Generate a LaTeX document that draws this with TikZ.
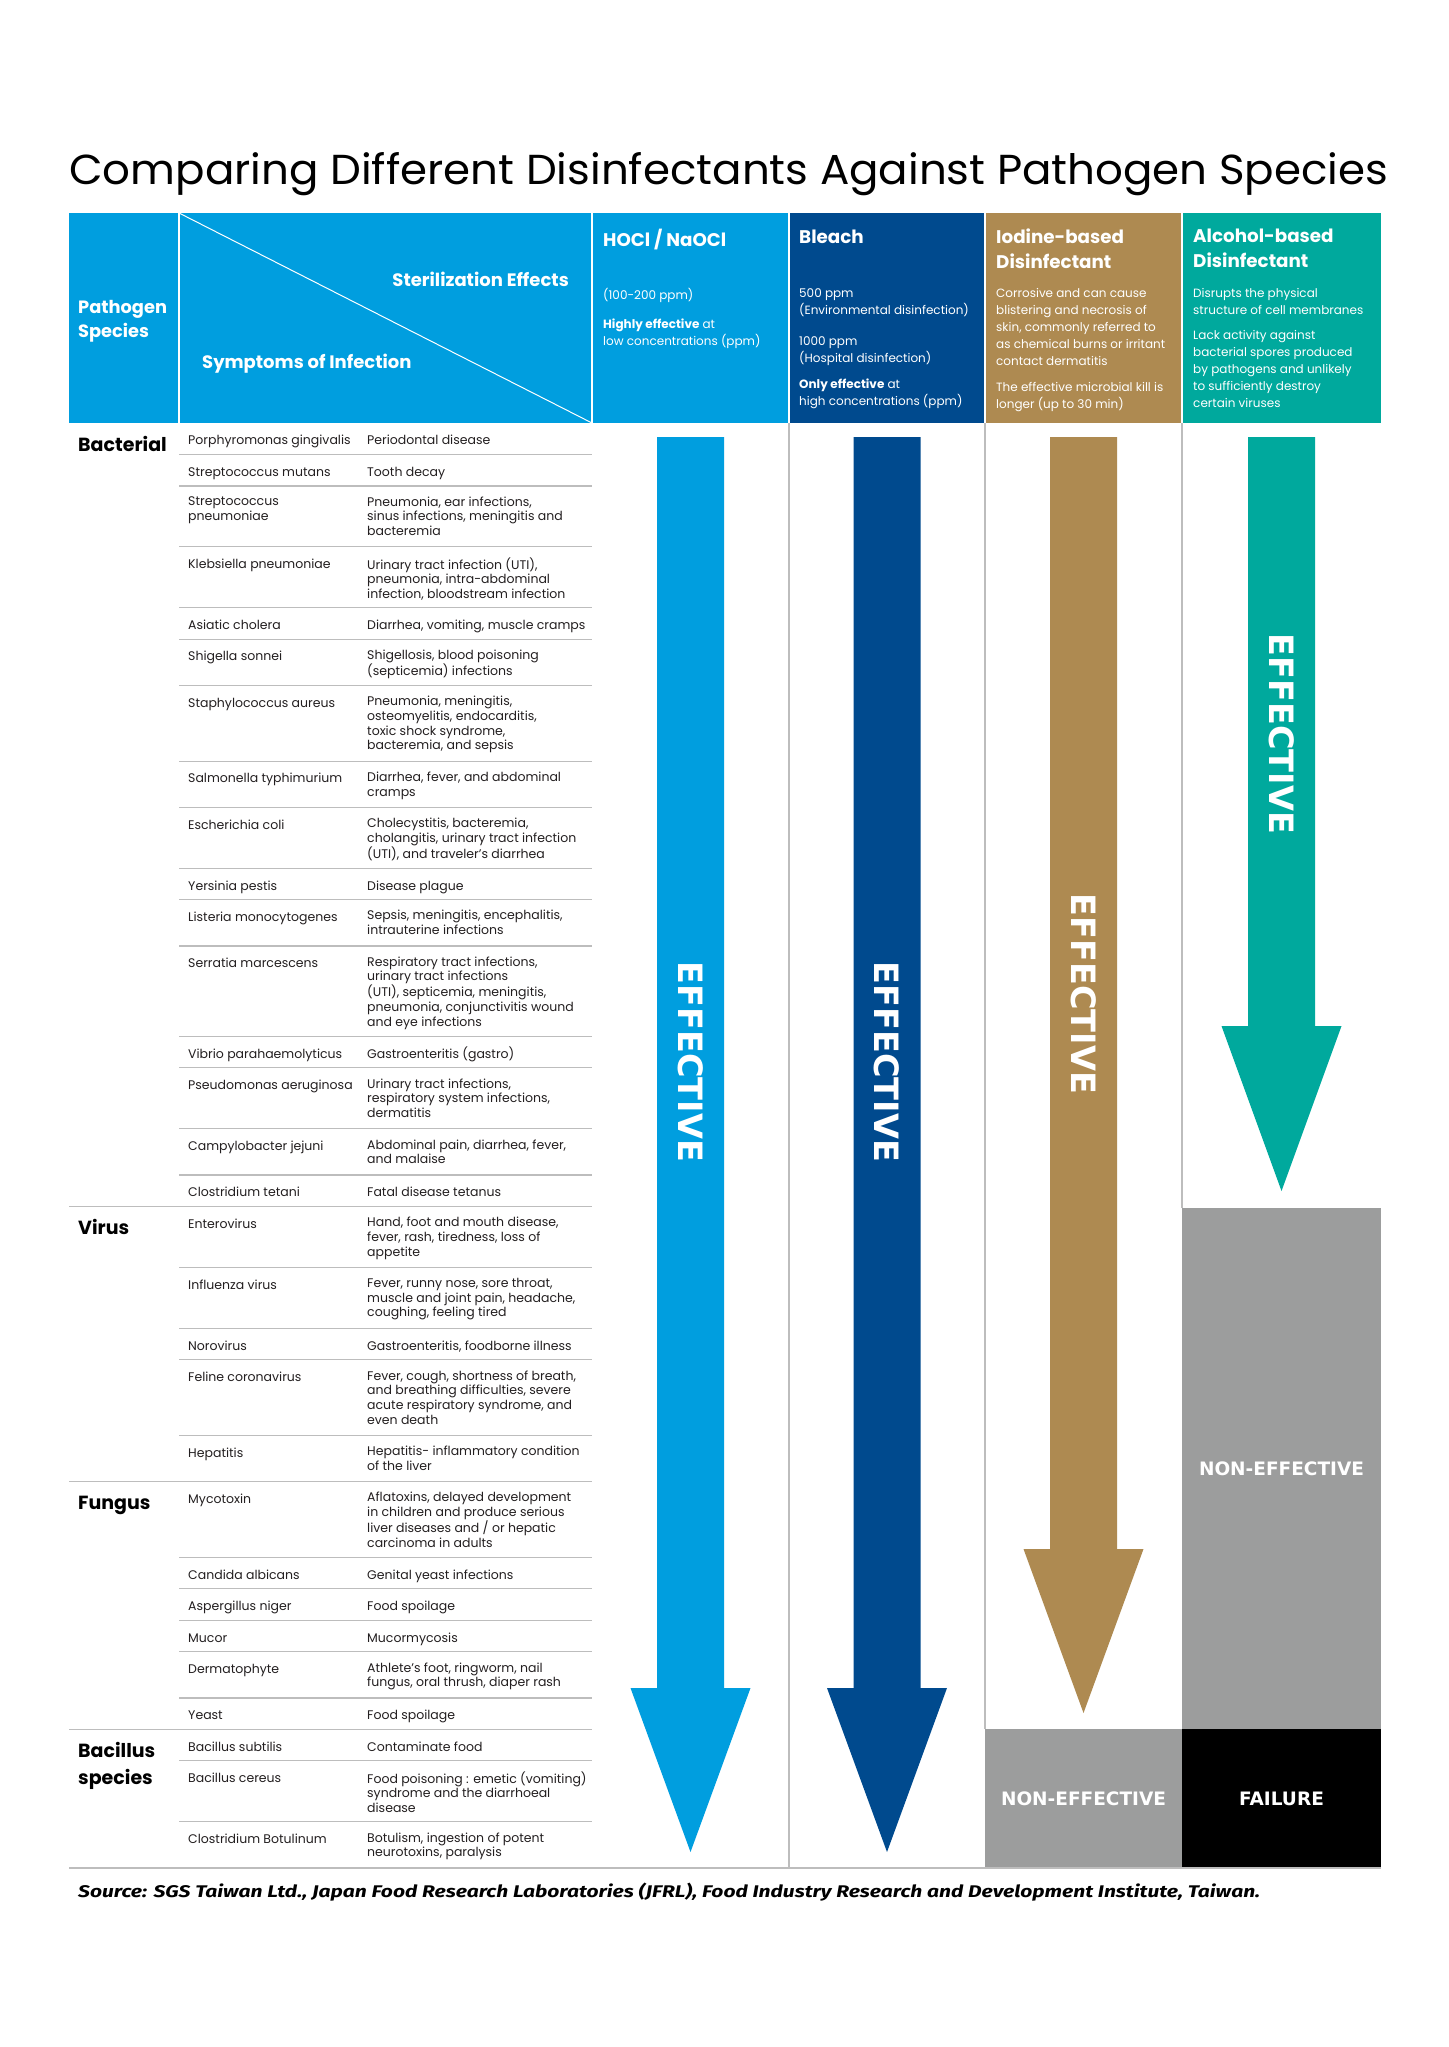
\documentclass[tikz,border=0pt]{standalone}
\usepackage{fontspec}
\usepackage{graphicx}
\setmainfont{Poppins}
\newfontfamily\effont{DejaVu Sans}
\newfontfamily\srcfont{Fira Sans}
\definecolor{hocl}{HTML}{009EDF}
\definecolor{bleach}{HTML}{004A8E}
\definecolor{iodine}{HTML}{AE8A51}
\definecolor{alcohol}{HTML}{00A99D}
\definecolor{ngray}{HTML}{9C9D9D}
\definecolor{rulegray}{HTML}{BDBDBD}
\definecolor{tabtext}{HTML}{231F20}
\newcommand\rowtop{423}
\newcommand\mkrow[5]{%
  \node[cellsp] (#1s) at (188,\rowtop+10.5) {#3};
  \node[cellsp] (#1y) at (367,\rowtop+10.5) {#4};
  \pgfmathsetmacro\rownext{\rowtop+16.7+14.75*#2}%
  \xdef\rowtop{\rownext}%
  \coordinate (#1a) at (#5,\rowtop);
  \coordinate (#1b) at (592,\rowtop);
  \draw[rowline] (#1a) -- (#1b);
}
\newcommand\darrow[5]{%
  \fill[#2] (#3-33.5,437) -- (#3+33.5,437) -- (#3+33.5,#4) -- (#3+60,#4)
    -- (#3,#5) -- (#3-60,#4) -- (#3-33.5,#4) -- cycle;
}
\tikzset{
  cellsp/.style={anchor=north west, inner sep=0, align=left, text=tabtext,
    font=\fontsize{12.5pt}{14.75pt}\selectfont, execute at begin node=\rule{0pt}{11pt}},
  rowline/.style={draw=rulegray, line width=1.2pt},
  colline/.style={draw=rulegray, line width=1.2pt},
  htitle/.style={anchor=north west, inner sep=0, align=left, text=white,
    font=\bfseries\fontsize{18.3pt}{25pt}\selectfont, execute at begin node=\rule{0pt}{14pt}},
  hbody/.style={anchor=north west, inner sep=0, align=left, text=white,
    font=\fontsize{12pt}{17pt}\selectfont, execute at begin node=\rule{0pt}{10pt}},
  grp/.style={anchor=north west, inner sep=0, align=left, text=black,
    font=\bfseries\fontsize{19pt}{27.4pt}\selectfont, execute at begin node=\rule{0pt}{15pt}},
  eff/.style={inner sep=0, text=white, font=\effont\bfseries\fontsize{33.5pt}{33.5pt}\selectfont, rotate=-90},
  verdict/.style={inner sep=0, text=white, font=\effont\bfseries\fontsize{18.5pt}{18.5pt}\selectfont},
  sepline/.style={draw=white, line width=1.3pt},
}
\begin{document}
\begin{tikzpicture}[x=1pt,y=-1pt]
\useasboundingbox (0,0) rectangle (1448,2047);
\fill[white] (0,0) rectangle (1448,2047);

% title
\node[anchor=base west, inner sep=0] (title) at (69,184)
  {\resizebox{1319pt}{32pt}{\fontsize{44pt}{44pt}\selectfont Comparing Different Disinfectants Against Pathogen Species}};

% header
\fill[hocl] (69,213) rectangle (592,423);
\fill[hocl] (592,213) rectangle (789,423);
\fill[bleach] (789,213) rectangle (985,423);
\fill[iodine] (985,213) rectangle (1182,423);
\fill[alcohol] (1182,213) rectangle (1381,423);
\coordinate (hA) at (179,213); \coordinate (hB) at (179,423);
\coordinate (hC) at (592,213); \coordinate (hD) at (592,423);
\coordinate (hE) at (789,213); \coordinate (hF) at (789,423);
\coordinate (hG) at (985,213); \coordinate (hH) at (985,423);
\coordinate (hI) at (1182,213); \coordinate (hJ) at (1182,423);
\draw[sepline] (hA) -- (hB);
\draw[sepline] (hC) -- (hD);
\draw[sepline] (hE) -- (hF);
\draw[sepline] (hG) -- (hH);
\draw[sepline] (hI) -- (hJ);
\draw[draw=white, line width=1pt] (hA) -- (hD);

\node[htitle, font=\bfseries\fontsize{17.8pt}{24.5pt}\selectfont] (path) at (78,300) {Pathogen\\Species};
\node[anchor=base east, inner sep=0, text=white, font=\bfseries\fontsize{18pt}{25pt}\selectfont] (ster) at (569,286) {Sterilization Effects};
\node[anchor=base west, inner sep=0, text=white, font=\bfseries\fontsize{18pt}{25pt}\selectfont] (symp) at (202,368) {Symptoms of Infection};

\node[htitle] (t1) at (603,229) {HOCl / NaOCl};
\node[htitle] (t2) at (799,229) {Bleach};
\node[htitle] (t3) at (996,229) {Iodine-based\\Disinfectant};
\node[htitle] (t4) at (1193,229) {Alcohol-based\\Disinfectant};

\node[hbody] (b1a) at (603,288) {(100-200 ppm)};
\node[hbody] (b1b) at (603,319) {\textbf{Highly effective} at\\low concentrations (ppm)};
\node[hbody] (b2a) at (799,288) {500 ppm\\(Environmental disinfection)};
\node[hbody] (b2b) at (799,336) {1000 ppm\\(Hospital disinfection)};
\node[hbody] (b2c) at (799,378.5) {\textbf{Only effective} at\\high concentrations (ppm)};
\node[hbody] (b3a) at (996,288) {Corrosive and can cause\\blistering and necrosis of\\skin, commonly referred to\\as chemical burns or irritant\\contact dermatitis};
\node[hbody] (b3b) at (996,382) {The effective microbial kill is\\longer (up to 30 min)};
\node[hbody] (b4a) at (1193,288) {Disrupts the physical\\structure of cell membranes};
\node[hbody] (b4b) at (1193,330) {Lack activity against\\bacterial spores produced\\by pathogens and unlikely\\to sufficiently destroy\\certain viruses};

% column lines
\coordinate (cA) at (789,423); \coordinate (cB) at (789,1868);
\coordinate (cC) at (985,423); \coordinate (cD) at (985,1729);
\coordinate (cE) at (1182,423); \coordinate (cF) at (1182,1208);
\draw[colline] (cA) -- (cB);
\draw[colline] (cC) -- (cD);
\draw[colline] (cE) -- (cF);

% group labels
\node[grp] (gBac) at (78,435.7) {Bacterial};
\node[grp] (gVir) at (78,1219) {Virus};
\node[grp] (gFun) at (78,1494.4) {Fungus};
\node[grp] (gBcl) at (78,1742) {Bacillus\\species};

% rows
\mkrow{r1}{1}{Porphyromonas gingivalis}{Periodontal disease}{179}
\mkrow{r2}{1}{Streptococcus mutans}{Tooth decay}{179}
\mkrow{r3}{3}{Streptococcus\\pneumoniae}{Pneumonia, ear infections,\\sinus infections, meningitis and\\bacteremia}{179}
\mkrow{r4}{3}{Klebsiella pneumoniae}{Urinary tract infection (UTI),\\pneumonia, intra-abdominal\\infection, bloodstream infection}{179}
\mkrow{r5}{1}{Asiatic cholera}{Diarrhea, vomiting, muscle cramps}{179}
\mkrow{r6}{2}{Shigella sonnei}{Shigellosis, blood poisoning\\(septicemia) infections}{179}
\mkrow{r7}{4}{Staphylococcus aureus}{Pneumonia, meningitis,\\osteomyelitis, endocarditis,\\toxic shock syndrome,\\bacteremia, and sepsis}{179}
\mkrow{r8}{2}{Salmonella typhimurium}{Diarrhea, fever, and abdominal\\cramps}{179}
\mkrow{r9}{3}{Escherichia coli}{Cholecystitis, bacteremia,\\cholangitis, urinary tract infection\\(UTI), and traveler’s diarrhea}{179}
\mkrow{r10}{1}{Yersinia pestis}{Disease plague}{179}
\mkrow{r11}{2}{Listeria monocytogenes}{Sepsis, meningitis, encephalitis,\\intrauterine infections}{179}
\mkrow{r12}{5}{Serratia marcescens}{Respiratory tract infections,\\urinary tract infections\\(UTI), septicemia, meningitis,\\pneumonia, conjunctivitis wound\\and eye infections}{179}
\mkrow{r13}{1}{Vibrio parahaemolyticus}{Gastroenteritis (gastro)}{179}
\mkrow{r14}{3}{Pseudomonas aeruginosa}{Urinary tract infections,\\respiratory system infections,\\dermatitis}{179}
\mkrow{r15}{2}{Campylobacter jejuni}{Abdominal pain, diarrhea, fever,\\and malaise}{179}
\mkrow{r16}{1}{Clostridium tetani}{Fatal disease tetanus}{69}
\mkrow{r17}{3}{Enterovirus}{Hand, foot and mouth disease,\\fever, rash, tiredness, loss of\\appetite}{179}
\mkrow{r18}{3}{Influenza virus}{Fever, runny nose, sore throat,\\muscle and joint pain, headache,\\coughing, feeling tired}{179}
\mkrow{r19}{1}{Norovirus}{Gastroenteritis, foodborne illness}{179}
\mkrow{r20}{4}{Feline coronavirus}{Fever, cough, shortness of breath,\\and breathing difficulties, severe\\acute respiratory syndrome, and\\even death}{179}
\mkrow{r21}{2}{Hepatitis}{Hepatitis- inflammatory condition\\of the liver}{69}
\mkrow{r22}{4}{Mycotoxin}{Aflatoxins, delayed development\\in children and produce serious\\liver diseases and / or hepatic\\carcinoma in adults}{179}
\mkrow{r23}{1}{Candida albicans}{Genital yeast infections}{179}
\mkrow{r24}{1}{Aspergillus niger}{Food spoilage}{179}
\mkrow{r25}{1}{Mucor}{Mucormycosis}{179}
\mkrow{r26}{2}{Dermatophyte}{Athlete’s foot, ringworm, nail\\fungus, oral thrush, diaper rash}{179}
\mkrow{r27}{1}{Yeast}{Food spoilage}{69}
\mkrow{r28}{1}{Bacillus subtilis}{Contaminate food}{179}
\mkrow{r29}{3}{Bacillus cereus}{Food poisoning : emetic (vomiting)\\syndrome and the diarrhoeal\\disease}{179}
\mkrow{r30}{2}{Clostridium Botulinum}{Botulism, ingestion of potent\\neurotoxins, paralysis}{69}

% arrows
\darrow{aH}{hocl}{690.5}{1688}{1852}
\darrow{aB}{bleach}{887}{1688}{1852}
\darrow{aI}{iodine}{1083.5}{1549}{1713}
\darrow{aA}{alcohol}{1281.5}{1026}{1191}
\node[eff] (eH) at (690.5,1062) {EFFECTIVE};
\node[eff] (eB) at (887,1062) {EFFECTIVE};
\node[eff] (eI) at (1083.5,994) {EFFECTIVE};
\node[eff] (eA) at (1281.5,734) {EFFECTIVE};

% verdict boxes
\fill[ngray] (1182,1208) rectangle (1381,1729);
\fill[black] (1182,1729) rectangle (1381,1868);
\fill[ngray] (985,1729) rectangle (1182,1868);
\node[verdict] (vA) at (1281.5,1469) {NON-EFFECTIVE};
\node[verdict] (vI) at (1083.5,1799) {NON-EFFECTIVE};
\node[verdict] (vF) at (1281.5,1799) {FAILURE};

% bottom rule
\coordinate (bA) at (69,1868); \coordinate (bB) at (1381,1868);
\draw[rowline] (bA) -- (bB);

% source
\node[anchor=base west, inner sep=0] (src) at (78,1897)
  {\resizebox{1182pt}{14.5pt}{\srcfont\bfseries\itshape\fontsize{19pt}{19pt}\selectfont Source: SGS Taiwan Ltd., Japan Food Research Laboratories (JFRL), Food Industry Research and Development Institute, Taiwan.}};
\end{tikzpicture}
\end{document}
